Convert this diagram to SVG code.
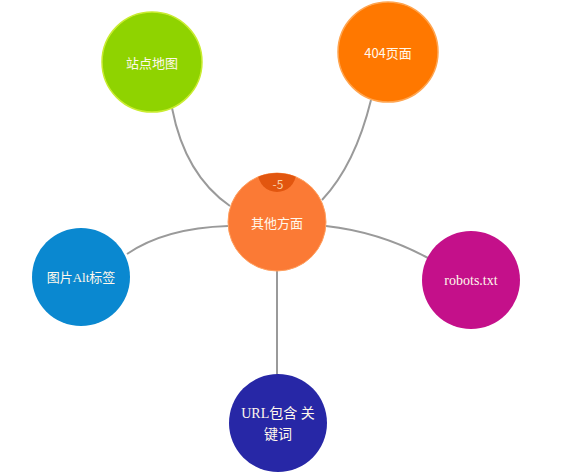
<svg xmlns="http://www.w3.org/2000/svg" width="588" height="476" viewBox="0 0 588 476">
<style>
.conn{fill:none;stroke:#9a9a9a;stroke-width:2}
.t{font-family:"Noto Sans CJK SC","Noto Sans",sans-serif;font-size:13px;fill:#fff8ec;text-anchor:middle;dominant-baseline:central}
.s{font-family:"Liberation Serif","Noto Sans CJK SC",serif;font-size:14px;fill:#fff8ec;text-anchor:middle;dominant-baseline:central}
</style>
<defs>
<clipPath id="cc"><circle cx="277" cy="222" r="49"/></clipPath>
</defs>
<rect width="588" height="476" fill="#ffffff"/>
<g id="connectors">
<path class="conn" d="M172,108 Q185,175 230,206"/>
<path class="conn" d="M371,100 Q355,165 322,200"/>
<path class="conn" d="M127,254 Q165,228 228,226"/>
<path class="conn" d="M326,226 Q380,232 428,258"/>
<path class="conn" d="M277,270 L277,375"/>
</g>
<g id="node-sitemap">
<circle cx="152" cy="62" r="50" fill="#8fd300" stroke="#c9ec30" stroke-width="1.5"/>
<text class="t" x="152" y="62" font-size="14">站点地图</text>
</g>
<g id="node-404">
<circle cx="388" cy="52" r="50" fill="#ff7800" stroke="#ffa550" stroke-width="1.5"/>
<text class="t" x="388" y="52">404页面</text>
</g>
<g id="node-alt">
<circle cx="81" cy="277" r="49" fill="#0a88d0"/>
<text class="s" x="81" y="277" style="font-size:13px">图片Alt标签</text>
</g>
<g id="node-robots">
<circle cx="471" cy="280" r="49" fill="#c4108a"/>
<text class="s" x="471" y="280">robots.txt</text>
</g>
<g id="node-url">
<circle cx="278" cy="423" r="49" fill="#2727a6"/>
<text class="s" x="278" y="413">URL包含 关</text>
<text class="s" x="278" y="434">键词</text>
</g>
<g id="node-center">
<circle cx="277" cy="222" r="49" fill="#fb7a35" stroke="#ffa060" stroke-width="1"/>
<circle cx="277" cy="173" r="19" fill="#e2560f" clip-path="url(#cc)"/>
<text class="t" x="278" y="183" style="font-size:12px;fill:#f9d2a8">-5</text>
<text class="t" x="277" y="222">其他方面</text>
</g>
</svg>
